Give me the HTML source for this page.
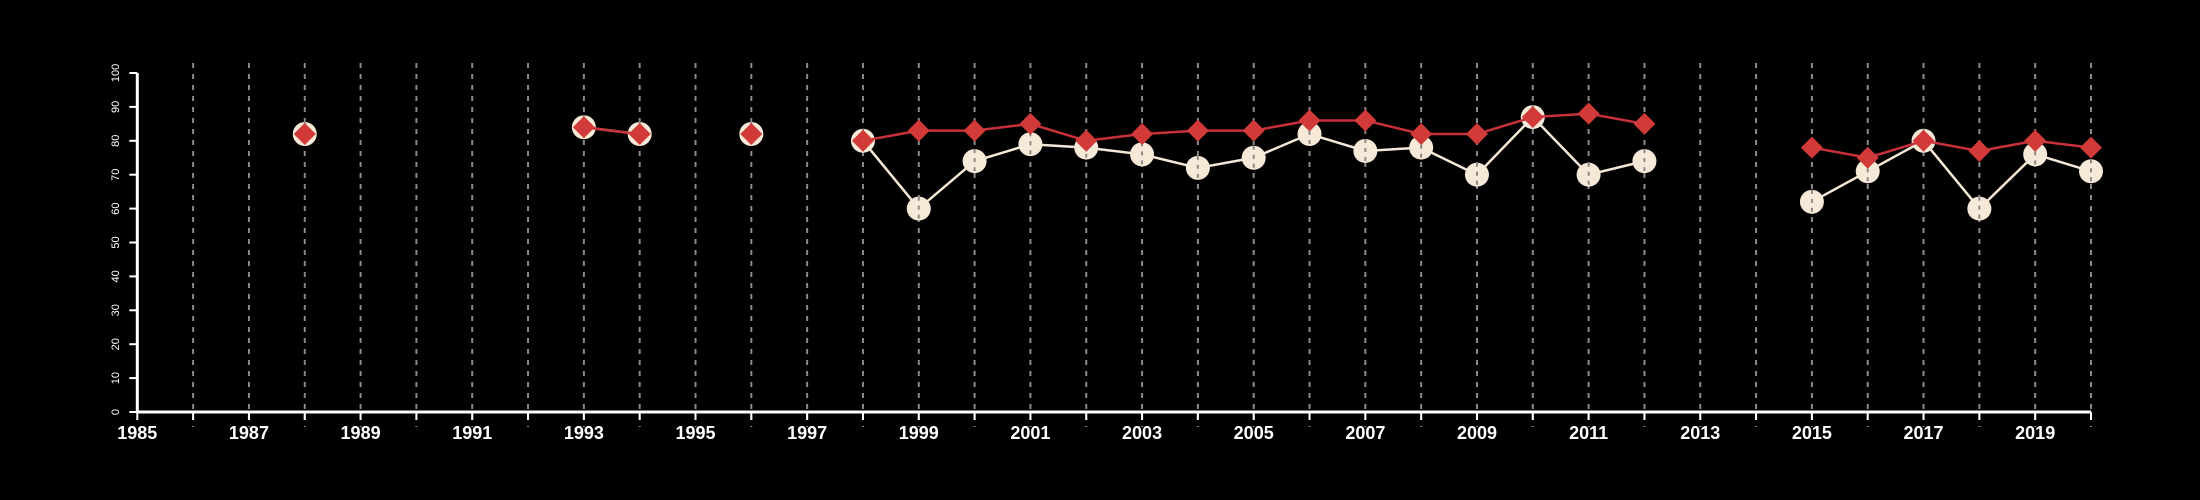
<!DOCTYPE html>
<html><head><meta charset="utf-8"><style>
html,body{margin:0;padding:0;background:#000;}
svg{display:block;}
text{font-family:"Liberation Sans",sans-serif;fill:#fff;}
</style></head><body>
<svg id="chart" width="2200" height="500" viewBox="0 0 2200 500" xmlns="http://www.w3.org/2000/svg">
<rect width="2200" height="500" fill="#000"/>
<g id="grid"></g>
<g id="axes"></g>
<g id="series-cream"></g>
<g id="series-red"></g>
</svg>
<script>
const years = [1988,1993,1994,1996,1998,1999,2000,2001,2002,2003,2004,2005,2006,2007,2008,2009,2010,2011,2012,2015,2016,2017,2018,2019,2020];
const creamValues = [82,84,82,82,80,60,74,79,78,76,72,75,82,77,78,70,87,70,74,62,71,80,60,76,71];
const redValues = [82,84,82,82,80,83,83,85,80,82,83,83,86,86,82,82,87,88,85,78,75,80,77,80,78];
const yTicks = [0,10,20,30,40,50,60,70,80,90,100];
const xLabels = [1985,1987,1989,1991,1993,1995,1997,1999,2001,2003,2005,2007,2009,2011,2013,2015,2017,2019];
const xMin = 1985, xMax = 2020;

const NS = "http://www.w3.org/2000/svg";
const X0 = 137.3, X1 = 2091, Y0 = 412, Y1 = 73;
function xs(v){ return X0 + (v - xMin) * (X1 - X0) / (xMax - xMin); }
function ys(v){ return Y0 - v * (Y0 - Y1) / 100; }
function mk(tag, attrs, parent){
  const e = document.createElementNS(NS, tag);
  for (const k in attrs) e.setAttribute(k, attrs[k]);
  parent.appendChild(e); return e;
}
const grid = document.getElementById('grid');
const axes = document.getElementById('axes');
const gc = document.getElementById('series-cream');
const gr = document.getElementById('series-red');

// axes
let a = mk('line', {x1:X0, y1:Y0, x2:X1, y2:Y0, stroke:'#fff', 'stroke-width':3}, axes);


a = mk('line', {x1:X0, y1:Y0, x2:X0, y2:Y1, stroke:'#fff', 'stroke-width':3}, axes);



for (let yr = xMin; yr <= xMax; yr++) {
  const x = xs(yr);
  if (yr > xMin) {
    const g = mk('line', {x1:x, y1:63, x2:x, y2:427, stroke:'#8a8a8a', 'stroke-width':2, 'stroke-dasharray':'5,6'}, grid);
    
    
  }
  const t = mk('line', {x1:x, y1:Y0, x2:x, y2:420, stroke:'#fff', 'stroke-width':2}, axes);
  
  
}
xLabels.forEach(v => {
  const t = mk('text', {x:xs(v), y:439, 'text-anchor':'middle', 'font-size':18, 'font-weight':'bold'}, axes);
  t.textContent = v;
  
  
});
yTicks.forEach(v => {
  const y = ys(v);
  const t = mk('line', {x1:X0 - 8, y1:y, x2:X0, y2:y, stroke:'#fff', 'stroke-width':2}, axes);
  
  
  const l = mk('text', {x:0, y:0, 'text-anchor':'middle', 'font-size':11, transform:'translate(119,' + y + ') rotate(-90)'}, axes);
  l.textContent = v;
  
  
});

function drawLines(vals, color, parent, name){
  for (let i = 1; i < years.length; i++) {
    if (years[i] - years[i-1] === 1) {
      const l = mk('line', {x1:xs(years[i-1]), y1:ys(vals[i-1]), x2:xs(years[i]), y2:ys(vals[i]), stroke:color, 'stroke-width':2.5}, parent);
      
      
    }
  }
}
drawLines(creamValues, '#f5e8d6', gc, 'cream-line');
years.forEach((yr, i) => {
  const c = mk('circle', {cx:xs(yr), cy:ys(creamValues[i]), r:12, fill:'#f7e9d7'}, gc);
  
  
  const d = mk('line', {x1:xs(yr), y1:ys(creamValues[i]) - 12, x2:xs(yr), y2:ys(creamValues[i]) + 12, stroke:'#8a8a8a', 'stroke-width':2, 'stroke-dasharray':'4,5'}, gc);
  
  
});
drawLines(redValues, '#c9313a', gr, 'red-line');
years.forEach((yr, i) => {
  const x = xs(yr), y = ys(redValues[i]), s = 11;
  const p = mk('polygon', {points:(x)+','+(y-s)+' '+(x+s)+','+y+' '+x+','+(y+s)+' '+(x-s)+','+y, fill:'#d13a38'}, gr);
  
  
});
</script>
</body></html>
